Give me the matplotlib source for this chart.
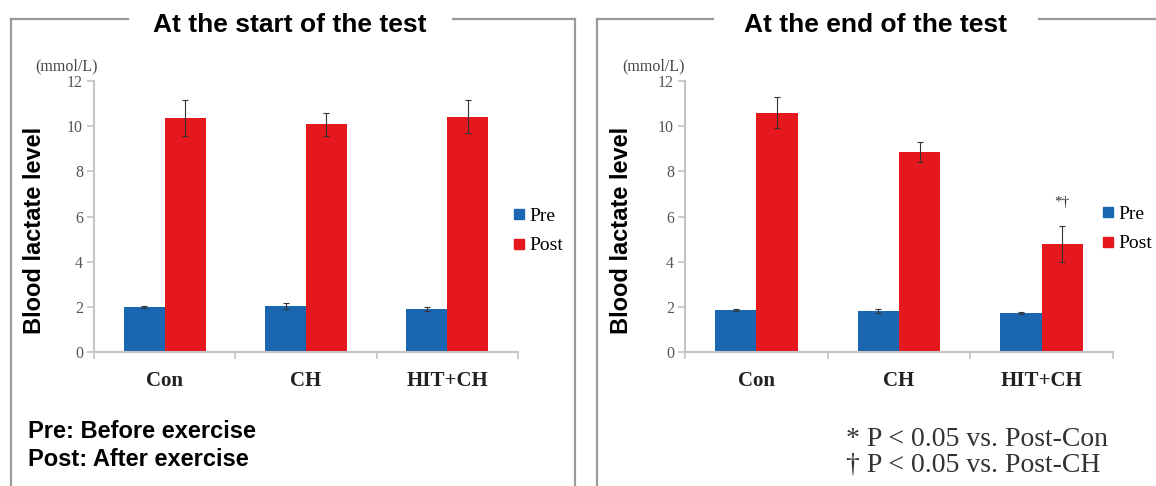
import numpy as np
import matplotlib
matplotlib.use("Agg")
import matplotlib.pyplot as plt
from matplotlib.lines import Line2D

# ------------------------
# Data
# ------------------------
groups = ["Con", "CH", "HIT+CH"]

start_pre = [1.99, 2.03, 1.90]
start_pre_err = [0.05, 0.12, 0.08]
start_post = [10.36, 10.08, 10.42]
start_post_err = [0.78, 0.50, 0.72]

end_pre = [1.86, 1.82, 1.72]
end_pre_err = [0.05, 0.10, 0.05]
end_post = [10.60, 8.85, 4.78]
end_post_err = [0.70, 0.45, 0.80]

titles = ["At the start of the test", "At the end of the test"]
yticks = [0, 2, 4, 6, 8, 10, 12]

# ------------------------
# Style
# ------------------------
W, H = 1156, 486
BLUE = "#1b66b0"
RED = "#e5181e"
AXGRAY = "#c4c4c4"
FRAME = "#9a9a9a"
SERIF = "Liberation Serif"
SANS = "Liberation Sans"

fig = plt.figure(figsize=(W / 100, H / 100), dpi=100)


def px(x, y):
    # pixel coords (origin top-left) -> figure fraction
    return x / W, 1 - y / H


def fig_line(x0, y0, x1, y1):
    (a, b), (c, d) = px(x0, y0), px(x1, y1)
    fig.add_artist(Line2D([a, c], [b, d], color=FRAME, lw=1.6,
                          transform=fig.transFigure))


def draw_panel(rect, pre, pre_err, post, post_err):
    ax = fig.add_axes(rect)
    x = np.arange(len(groups))
    w = 0.29
    ekw = dict(ecolor="#333333", elinewidth=0.8, capsize=2, capthick=0.8)
    ax.bar(x - w / 2, pre, w, yerr=pre_err, color=BLUE, error_kw=ekw)
    ax.bar(x + w / 2, post, w, yerr=post_err, color=RED, error_kw=ekw)
    ax.set_xlim(-0.5, 2.5)
    ax.set_ylim(0, 12)
    ax.set_yticks(yticks)
    ax.set_yticklabels([str(t) for t in yticks], fontfamily=SERIF,
                       fontsize=11.5, color="#555555")
    ax.set_xticks(x)
    ax.set_xticklabels(groups, fontfamily=SERIF, fontsize=15,
                       fontweight="bold", color="#222222")
    ax.set_xticks([-0.5, 0.5, 1.5, 2.5], minor=True)
    ax.tick_params(axis="x", which="major", length=0, pad=14)
    ax.tick_params(axis="x", which="minor", length=5, color=AXGRAY, width=1.2)
    ax.tick_params(axis="y", length=5, color=AXGRAY, width=1.2, pad=3)
    for s in ["top", "right"]:
        ax.spines[s].set_visible(False)
    for s in ["left", "bottom"]:
        ax.spines[s].set_color(AXGRAY)
        ax.spines[s].set_linewidth(1.5)
    return ax


# ------------------------
# Panel frames
# ------------------------
fig_line(11, 19, 11, 486)
fig_line(575, 19, 575, 486)
fig_line(11, 19, 128, 19)
fig_line(453, 19, 575, 19)

fig_line(597, 19, 597, 486)
fig_line(597, 19, 713, 19)
fig_line(1039, 19, 1156, 19)

# ------------------------
# Panels
# ------------------------
ax1 = draw_panel([94 / W, 1 - 352 / H, 424 / W, 271 / H],
                 start_pre, start_pre_err, start_post, start_post_err)
ax2 = draw_panel([685 / W, 1 - 352 / H, 428 / W, 271 / H],
                 end_pre, end_pre_err, end_post, end_post_err)

# titles
fig.text(*px(290, 25), titles[0], ha="center", va="center",
         fontfamily=SANS, fontweight="bold", fontsize=19)
fig.text(*px(876, 25), titles[1], ha="center", va="center",
         fontfamily=SANS, fontweight="bold", fontsize=19)

# units and y labels
for cx, lx in [(66, 35), (653, 621)]:
    fig.text(*px(cx, 66), "(mmol/L)", ha="center", va="center",
             fontfamily=SERIF, fontsize=11.5, color="#444444")
    fig.text(*px(lx, 230), "Blood lactate level", ha="center", va="center",
             rotation=90, fontfamily=SANS, fontweight="bold", fontsize=17)

# legends
handles = [Line2D([], [], marker="s", ls="none", color=BLUE, markersize=7),
           Line2D([], [], marker="s", ls="none", color=RED, markersize=7)]
for lx, ly in [(503, 231), (1092, 229)]:
    fig.legend(handles, ["Pre", "Post"], loc="center left",
               bbox_to_anchor=px(lx, ly), bbox_transform=fig.transFigure,
               frameon=False, handlelength=0.6, handletextpad=0.25,
               labelspacing=0.6, borderpad=0,
               prop={"family": SERIF, "size": 14})

# significance mark
ax2.text(2 + 0.29 / 2, 6.6, "*\u2020", ha="center", va="center",
         fontfamily=SERIF, fontsize=11, color="#333333")

# notes
fig.text(*px(28, 432), "Pre: Before exercise", ha="left", va="center",
         fontfamily=SANS, fontweight="bold", fontsize=17)
fig.text(*px(28, 459), "Post: After exercise", ha="left", va="center",
         fontfamily=SANS, fontweight="bold", fontsize=17)

fig.text(*px(846, 439), "* P < 0.05 vs. Post-Con", ha="left", va="center",
         fontfamily=SERIF, fontsize=20, color="#333333")
fig.text(*px(846, 465), "\u2020 P < 0.05 vs. Post-CH", ha="left", va="center",
         fontfamily=SERIF, fontsize=20, color="#333333")

fig.savefig("out.png", dpi=100)
